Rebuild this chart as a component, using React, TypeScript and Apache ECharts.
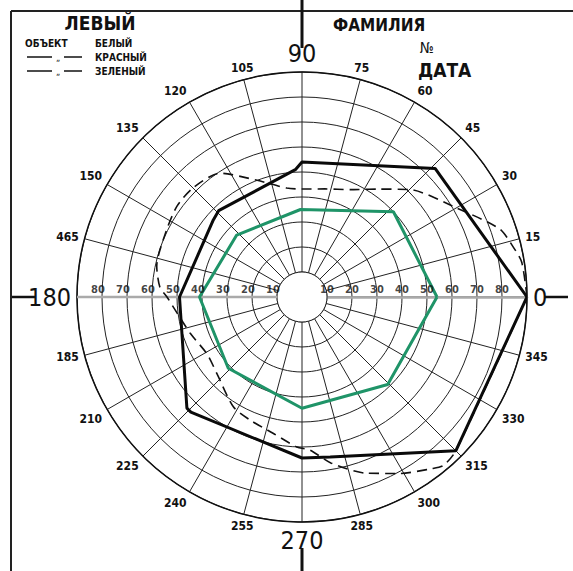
import React, { useEffect, useRef } from "react";
import * as echarts from "echarts";

// ---- data ----
const angleTickLabels = ["0","15","30","45","60","75","90","105","120","135","150","465","180","185","210","225","240","255","270","285","300","315","330","345"];
const ringLabels = [10, 20, 30, 40, 50, 60, 70, 80];

// white object (solid black)
const whiteAngles = [0, 44, 90, 93, 134, 139, 180, 224, 226, 270, 280, 315, 360];
const whiteRadii = [90, 74, 54, 51, 48, 47, 49, 64, 64, 64.4, 65, 87, 90];

// red object (dashed)
const redAngles = [0, 9, 13, 19, 30, 45, 55, 66, 78, 90, 98, 111, 123.5, 135, 144, 154, 168, 176, 180, 187, 198, 211, 222, 238, 247, 258, 268, 273, 280, 290, 299, 307, 310, 315, 360];
const redRadii = [90, 89, 87, 83.6, 71.3, 60.8, 52.7, 47, 44.2, 43.2, 44, 50, 59.4, 61.7, 61.8, 60.4, 59.4, 57, 54, 50.5, 47, 44.3, 45.8, 51.8, 53.4, 55.7, 60, 61.3, 67.5, 75, 80.7, 86, 88, 87, 90];

// green object
const greenAngles = [0, 43, 91, 136.5, 180, 224, 270, 314.4, 360];
const greenRadii = [54, 50, 35, 36, 41, 41, 44.5, 49, 54];

// ---- layout ----
const W = 573, H = 571;
const CX = 302, CY = 297, R = 225;
const RMAX = 90;

const NARROW = "'Liberation Sans Narrow', 'DejaVu Sans Condensed', 'Roboto', sans-serif";
const BOLD = "'DejaVu Sans Condensed', 'DejaVu Sans', sans-serif";

function pairs(r: number[], a: number[]) {
  return r.map((v, i) => [v, a[i]]);
}

export default function App() {
  const ref = useRef<HTMLDivElement>(null);
  useEffect(() => {
    if (!ref.current) return;
    const chart = echarts.init(ref.current, null, { renderer: "svg" });
    const innerR = (10 / RMAX) * R;
    const ditto = (y: number) => [
      { type: "line", shape: { x1: 27, y1: y, x2: 52, y2: y }, style: { stroke: "#111", lineWidth: 1.5 } },
      { type: "text", x: 58, y: y + 1, style: { text: "„", fontSize: 9, fontFamily: BOLD, fill: "#111", align: "center", verticalAlign: "middle" } },
      { type: "line", shape: { x1: 64, y1: y, x2: 82, y2: y }, style: { stroke: "#111", lineWidth: 1.5 } },
    ];
    const option: any = {
      animation: false,
      backgroundColor: "#ffffff",
      polar: { center: [CX, CY], radius: R },
      angleAxis: {
        type: "value",
        min: 0,
        max: 360,
        interval: 15,
        startAngle: 0,
        clockwise: false,
        axisLine: { show: true, lineStyle: { color: "#111", width: 1.5 } },
        axisTick: { show: false },
        splitLine: { show: true, lineStyle: { color: "#222", width: 1 } },
        axisLabel: {
          show: true,
          margin: 6,
          formatter: (v: number) => {
            if (v >= 360) return "";
            const i = Math.round(v / 15) % 24;
            const t = angleTickLabels[i];
            return i % 6 === 0 ? "{big|" + t + "}" : "{small|" + t + "}";
          },
          rich: {
            big: { fontSize: 25, fontFamily: NARROW, color: "#111" },
            small: { fontSize: 12, fontWeight: "bold", fontFamily: NARROW, color: "#111" },
          },
        },
      },
      radiusAxis: {
        type: "value",
        min: 0,
        max: RMAX,
        interval: 10,
        axisLine: { show: true, lineStyle: { color: "#aaa", width: 2.5 } },
        axisTick: { show: false },
        axisLabel: { show: false },
        splitLine: { show: true, lineStyle: { color: "#222", width: 1 } },
      },
      graphic: [
        { type: "circle", z: 1, shape: { cx: CX, cy: CY, r: innerR }, style: { fill: "#fff", stroke: "#222", lineWidth: 1 } },
        { type: "line", z: 1, shape: { x1: CX - R, y1: CY, x2: CX - innerR, y2: CY }, style: { stroke: "#aaa", lineWidth: 2.5 } },
        // frame
        { type: "line", shape: { x1: 11, y1: 11, x2: W, y2: 11 }, style: { stroke: "#222", lineWidth: 2 } },
        { type: "line", shape: { x1: 11, y1: 11, x2: 11, y2: H }, style: { stroke: "#222", lineWidth: 2 } },
        // meridian marks
        { type: "line", shape: { x1: CX, y1: 0, x2: CX, y2: CY - R - 24 }, style: { stroke: "#111", lineWidth: 3 } },
        { type: "line", shape: { x1: CX, y1: CY + R + 26, x2: CX, y2: H }, style: { stroke: "#111", lineWidth: 3 } },
        { type: "line", shape: { x1: 12, y1: CY, x2: CX - R - 42, y2: CY }, style: { stroke: "#111", lineWidth: 2.5 } },
        { type: "line", shape: { x1: CX + R + 18, y1: CY, x2: W - 5, y2: CY }, style: { stroke: "#111", lineWidth: 2.5 } },
        // titles
        { type: "text", x: 100, y: 23, style: { text: "ЛЕВЫЙ", fontSize: 19, fontWeight: "bold", fontFamily: NARROW, fill: "#111", align: "center", verticalAlign: "middle" } },
        { type: "text", x: 25, y: 43, style: { text: "ОБЪЕКТ", fontSize: 10, fontWeight: "bold", fontFamily: BOLD, fill: "#111", verticalAlign: "middle" } },
        { type: "text", x: 95, y: 43, style: { text: "БЕЛЫЙ", fontSize: 10, fontWeight: "bold", fontFamily: BOLD, fill: "#111", verticalAlign: "middle" } },
        ...ditto(57),
        { type: "text", x: 95, y: 57, style: { text: "КРАСНЫЙ", fontSize: 10, fontWeight: "bold", fontFamily: BOLD, fill: "#111", verticalAlign: "middle" } },
        ...ditto(71),
        { type: "text", x: 95, y: 71, style: { text: "ЗЕЛЕНЫЙ", fontSize: 10, fontWeight: "bold", fontFamily: BOLD, fill: "#111", verticalAlign: "middle" } },
        { type: "text", x: 333, y: 25, style: { text: "ФАМИЛИЯ", fontSize: 17, fontWeight: "bold", fontFamily: NARROW, fill: "#111", verticalAlign: "middle" } },
        { type: "text", x: 420, y: 48, style: { text: "№", fontSize: 15, fontFamily: NARROW, fill: "#111", verticalAlign: "middle" } },
        { type: "text", x: 418, y: 70, style: { text: "ДАТА", fontSize: 19, fontWeight: "bold", fontFamily: NARROW, fill: "#111", verticalAlign: "middle" } },
      ],
      series: [
        {
          name: "КРАСНЫЙ",
          type: "line",
          coordinateSystem: "polar",
          data: pairs(redRadii, redAngles),
          symbol: "none",
          smooth: 0.25,
          z: 3,
          lineStyle: { color: "#111", width: 1.6, type: [10, 6] },
        },
        {
          name: "БЕЛЫЙ",
          type: "line",
          coordinateSystem: "polar",
          data: pairs(whiteRadii, whiteAngles),
          symbol: "none",
          z: 4,
          lineStyle: { color: "#0a0a0a", width: 3 },
        },
        {
          name: "ЗЕЛЕНЫЙ",
          type: "line",
          coordinateSystem: "polar",
          data: pairs(greenRadii, greenAngles),
          symbol: "none",
          z: 5,
          lineStyle: { color: "#1f9468", width: 3 },
        },
        {
          name: "ringRight",
          type: "scatter",
          coordinateSystem: "polar",
          data: ringLabels.map((v) => [v, 0]),
          symbolSize: 1,
          itemStyle: { color: "rgba(0,0,0,0)" },
          z: 6,
          label: {
            show: true,
            position: "inside",
            offset: [0, -8],
            formatter: (p: any) => String(p.value[0]),
            fontSize: 11,
            fontWeight: "bold",
            fontFamily: BOLD,
            color: "#111",
          },
        },
        {
          name: "ringLeft",
          type: "scatter",
          coordinateSystem: "polar",
          data: ringLabels.map((v) => [v, 180]),
          symbolSize: 1,
          itemStyle: { color: "rgba(0,0,0,0)" },
          z: 6,
          label: {
            show: true,
            position: "inside",
            offset: [-4, -8],
            formatter: (p: any) => String(p.value[0]),
            fontSize: 11,
            fontWeight: "bold",
            fontFamily: BOLD,
            color: "#111",
          },
        },
      ],
    };
    chart.setOption(option);
    return () => chart.dispose();
  }, []);
  return <div ref={ref} style={{ position: "fixed", left: 0, top: 0, width: W, height: H }} />;
}
